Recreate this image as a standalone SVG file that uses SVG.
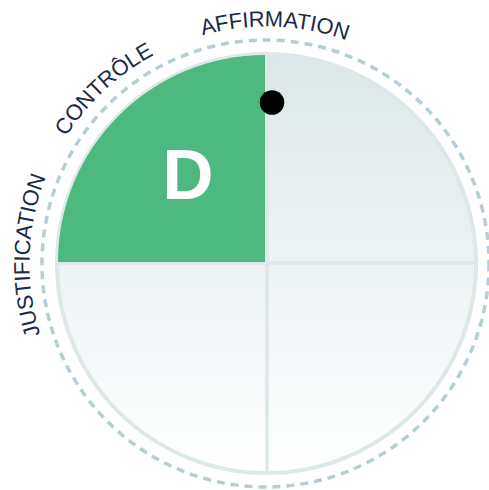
<svg xmlns="http://www.w3.org/2000/svg" width="489" height="490" viewBox="0 0 489 490">
<defs>
<linearGradient id="bg" x1="0" y1="0" x2="0" y2="1">
<stop offset="0" stop-color="#dce7e9"/>
<stop offset="1" stop-color="#ffffff"/>
</linearGradient>
<path id="ring" d="M 266.5,500.5 A 237 237 0 1 1 266.5,26.5 A 237 237 0 1 1 266.5,500.5"/>
<style>
.lbl{font-family:"Liberation Sans",Arial,sans-serif;font-size:22px;letter-spacing:-0.1px;fill:#1b2a47}
.div{stroke:#dde9e9;stroke-width:3.5}
</style>
</defs>
<rect width="489" height="490" fill="#ffffff"/>
<g id="dashed-ring">
<circle cx="265.5" cy="263.5" r="223.5" fill="none" stroke="#b3cfd5" stroke-width="3.5" stroke-dasharray="8 6"/>
</g>
<g id="wheel">
<circle cx="266.5" cy="263.5" r="209.5" fill="url(#bg)" stroke="#dce9e8" stroke-width="4"/>
<line class="div" x1="267" y1="54" x2="267" y2="473"/>
<line class="div" x1="56" y1="263" x2="477" y2="263"/>
</g>
<g id="quadrant-d">
<path d="M 265,262 L 58,262 A 207 207 0 0 1 265,55 Z" fill="#4db880"/>
<text x="188" y="198.5" text-anchor="middle" font-family="'Liberation Sans',Arial,sans-serif" font-weight="bold" font-size="71" fill="#ffffff">D</text>
</g>
<g id="marker-dot">
<circle cx="272" cy="102.5" r="12.3" fill="#000000"/>
</g>
<g id="labels">
<text class="lbl" text-anchor="middle"><textPath href="#ring" startOffset="50.56%">AFFIRMATION</textPath></text>
<text class="lbl" text-anchor="middle"><textPath href="#ring" startOffset="38.06%">CONTRÔLE</textPath></text>
<text class="lbl" text-anchor="middle"><textPath href="#ring" startOffset="25.56%">JUSTIFICATION</textPath></text>
</g>
</svg>
